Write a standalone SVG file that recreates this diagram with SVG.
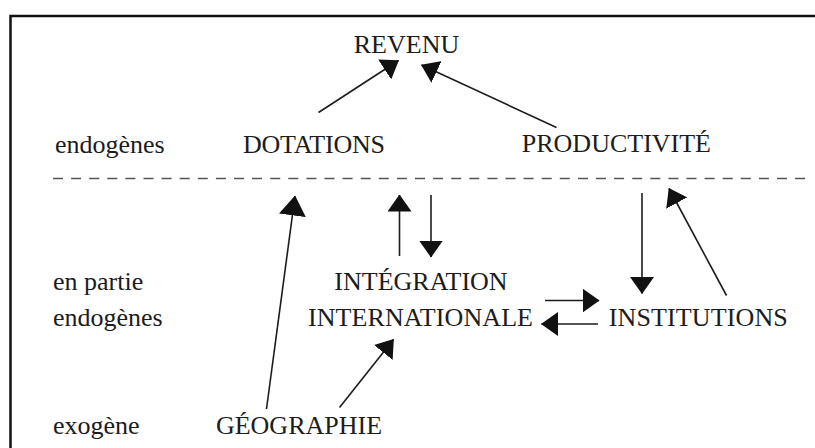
<svg xmlns="http://www.w3.org/2000/svg" width="815" height="448" viewBox="0 0 815 448">
<style>
.t{font-family:"Liberation Serif","Times New Roman",serif;font-size:26px;fill:#1c1c1c}
.m{text-anchor:middle}
.c{stroke:#1c1c1c;stroke-width:1.6;fill:none;marker-end:url(#ah)}
</style>
<defs>
<marker id="ah" markerUnits="userSpaceOnUse" markerWidth="17" markerHeight="24" viewBox="0 0 17 24" refX="16.5" refY="12" orient="auto">
<path d="M0,0 L17,12 L0,24 z" fill="#111"/>
</marker>
<marker id="ahL" markerUnits="userSpaceOnUse" markerWidth="20" markerHeight="27" viewBox="0 0 20 27" refX="19.5" refY="13.5" orient="auto">
<path d="M0,0 L20,13.5 L0,27 z" fill="#111"/>
</marker>
</defs>
<rect width="815" height="448" fill="#fff"/>
<path d="M10.5,448 V16 H815" fill="none" stroke="#111" stroke-width="2.5"/>
<line x1="53" y1="178.5" x2="805" y2="178.5" stroke="#555" stroke-width="1.6" stroke-dasharray="10 8.1"/>
<g id="labels">
<text class="t" x="55" y="153">endogènes</text>
<text class="t" x="53" y="289.5">en partie</text>
<text class="t" x="53" y="326">endogènes</text>
<text class="t" x="53" y="434">exogène</text>
</g>
<g id="revenu"><text class="t m" x="406.5" y="53">REVENU</text></g>
<g id="dotations"><text class="t m" x="314" y="152.7" textLength="142">DOTATIONS</text></g>
<g id="productivite"><text class="t m" x="616.4" y="152.3">PRODUCTIVITÉ</text></g>
<g id="integration">
<text class="t m" x="421" y="289.5">INTÉGRATION</text>
<text class="t m" x="420.5" y="326" textLength="225">INTERNATIONALE</text>
</g>
<g id="institutions"><text class="t m" x="698.3" y="326" textLength="179">INSTITUTIONS</text></g>
<g id="geographie"><text class="t m" x="299" y="434">GÉOGRAPHIE</text></g>
<g id="connectors">
<path class="c" d="M318.5,112.5 L398.5,60.5"/>
<path class="c" d="M556.5,127.5 L421.5,65"/>
<path class="c" d="M399.5,256 L399.5,195"/>
<path class="c" d="M431,195 L431,257"/>
<path class="c" d="M642,193 L642,293.5"/>
<path class="c" d="M726.5,295.5 L669,188.5"/>
<path class="c" d="M545,300.5 L599,300.5"/>
<path class="c" d="M598,324 L541.5,324"/>
<path class="c" style="marker-end:url(#ahL)" d="M266.5,409 L295,196"/>
<path class="c" d="M339.5,407.5 L393.5,339.5"/>
</g>
</svg>
